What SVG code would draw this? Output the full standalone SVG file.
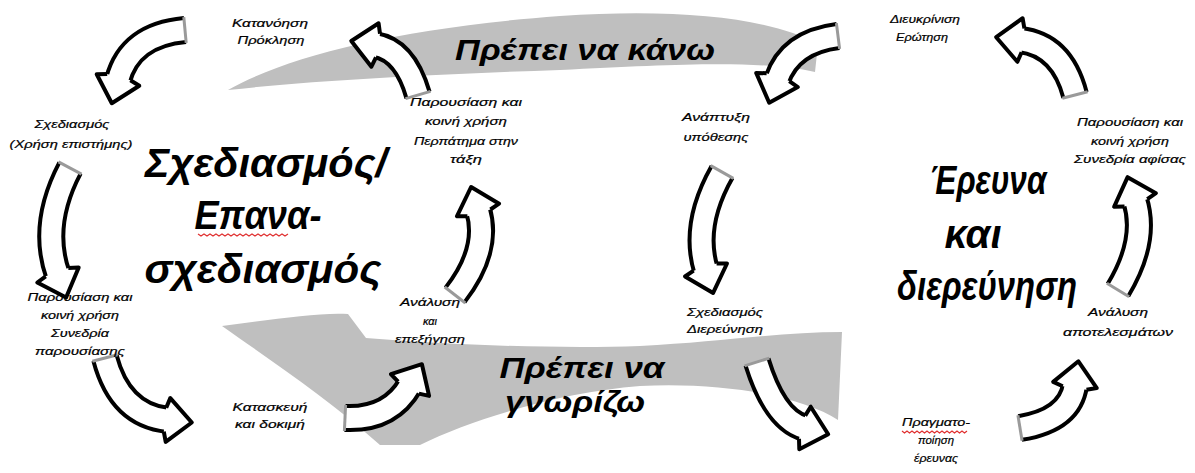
<svg xmlns="http://www.w3.org/2000/svg" width="1195" height="473" viewBox="0 0 1195 473">
<style>
.band{fill:#bfbfbf;stroke:none}
.big{font-family:"Liberation Sans","DejaVu Sans",sans-serif;font-weight:bold;font-style:italic;font-size:40px;fill:#000;text-anchor:middle}
.mid{font-family:"Liberation Sans","DejaVu Sans",sans-serif;font-weight:bold;font-style:italic;font-size:29px;fill:#000;text-anchor:middle}
.sm{font-family:"Liberation Sans","DejaVu Sans",sans-serif;font-style:italic;font-size:11px;fill:#000;stroke:#000;stroke-width:0.2;text-anchor:middle}
.so{fill:none;stroke:#000;stroke-width:28}
.si{fill:none;stroke:#fff;stroke-width:20}
.hd{fill:#fff;stroke:#000;stroke-width:4;stroke-linejoin:round}
.tl{stroke:#9a9a9a;stroke-width:3;fill:none}
.sq{fill:none;stroke:#e03030;stroke-width:1.2}
</style>
<rect width="1195" height="473" fill="#fff"/>
<g id="bands">
<path class="band" d="M228 90 C290 55 400 28 560 16 C680 8 770 18 818 44 L815 72 C760 60 680 64 560 70 C440 74 320 80 228 90 Z"/>
<path class="band" d="M222 326 C270 320 320 312 348 314 L366 338 C450 345 560 349 640 346 C720 342 780 332 842 332 L838 420 C800 395 720 382 640 386 C560 392 470 420 420 445 L380 445 C330 400 270 360 222 326 Z"/>
</g>
<g id="connectors">
<g id="a1"><path class="so" d="M418 95 Q405 50 375 45"/><path class="si" d="M418 95 Q405 50 375 45"/><path class="hd" d="M380 33.7 L378.6 23.3 L351.3 41 L371.4 66.7 L376 57.3"/><path class="tl" d="M430.5 91.4 L405.5 98.6"/></g>
<g id="a2"><path class="so" d="M185 30 Q130 35 118 80"/><path class="si" d="M185 30 Q130 35 118 80"/><path class="hd" d="M107.2 74 L96.7 74.3 L111.8 103.2 L139.3 85.7 L130.4 80.2"/><path class="tl" d="M183.8 17.1 L186.2 42.9"/></g>
<g id="a3"><path class="so" d="M70 168 Q40 225 58 275"/><path class="si" d="M70 168 Q40 225 58 275"/><path class="hd" d="M45.7 276.3 L37.3 282.5 L66.1 297.6 L78.7 267.5 L68.3 268.1"/><path class="tl" d="M58.5 161.9 L81.5 174.1"/></g>
<g id="a4"><path class="so" d="M105 358 Q120 415 168 420"/><path class="si" d="M105 358 Q120 415 168 420"/><path class="hd" d="M163.8 431.6 L165.7 441.9 L191.8 422.5 L170.3 398.1 L166.2 407.8"/><path class="tl" d="M92.4 361.3 L117.6 354.7"/></g>
<g id="a5"><path class="so" d="M345 418 Q390 420 410 385"/><path class="si" d="M345 418 Q390 420 410 385"/><path class="hd" d="M418.9 393.6 L429.1 395.9 L421.9 364.2 L390.9 374.1 L398.1 381.6"/><path class="tl" d="M344.4 431 L345.6 405"/></g>
<g id="a6"><path class="so" d="M455 295 Q490 250 478 210"/><path class="si" d="M455 295 Q490 250 478 210"/><path class="hd" d="M490.4 209.5 L499.1 203.7 L471.1 187 L456.9 216.3 L467.4 216.3"/><path class="tl" d="M465.3 303 L444.7 287"/></g>
<g id="b1"><path class="so" d="M1075 95 Q1062 45 1020 40"/><path class="si" d="M1075 95 Q1062 45 1020 40"/><path class="hd" d="M1024.4 28.5 L1022.6 18.2 L996.2 37.2 L1017.4 61.8 L1021.6 52.3"/><path class="tl" d="M1087.6 91.7 L1062.4 98.3"/></g>
<g id="b2"><path class="so" d="M838 36 Q790 42 777 80"/><path class="si" d="M838 36 Q790 42 777 80"/><path class="hd" d="M766.6 73.3 L756.2 72.9 L769.2 102.7 L797.8 87.1 L789.3 81.1"/><path class="tl" d="M836.4 23.1 L839.6 48.9"/></g>
<g id="b3"><path class="so" d="M722 172 Q692 225 706 270"/><path class="si" d="M722 172 Q692 225 706 270"/><path class="hd" d="M693.6 270.7 L685 276.5 L713.1 292.9 L727 263.5 L716.6 263.5"/><path class="tl" d="M710.7 165.6 L733.3 178.4"/></g>
<g id="b4"><path class="so" d="M757 362 Q775 420 805 428"/><path class="si" d="M757 362 Q775 420 805 428"/><path class="hd" d="M799 438.8 L799.3 449.3 L828.2 434.2 L810.7 406.7 L805.2 415.6"/><path class="tl" d="M744.6 365.9 L769.4 358.1"/></g>
<g id="b5"><path class="so" d="M1020 428 Q1070 420 1075 385"/><path class="si" d="M1020 428 Q1070 420 1075 385"/><path class="hd" d="M1086.5 389.7 L1096.8 388.1 L1078.4 361.3 L1053.2 381.9 L1062.7 386.3"/><path class="tl" d="M1022.1 440.8 L1017.9 415.2"/></g>
<g id="b6"><path class="so" d="M1118 290 Q1148 240 1135 200"/><path class="si" d="M1118 290 Q1148 240 1135 200"/><path class="hd" d="M1147.3 199.2 L1155.9 193.2 L1127.6 177.2 L1114.1 206.8 L1124.5 206.6"/><path class="tl" d="M1129.1 296.7 L1106.9 283.3"/></g>
</g>
<g id="title-left">
<text class="big" x="266" y="177" textLength="242" lengthAdjust="spacingAndGlyphs">Σχεδιασμός/</text>
<text class="big" x="258" y="229" textLength="127" lengthAdjust="spacingAndGlyphs">Επανα-</text>
<path class="sq" d="M198 234 l3 2 l3 -2 l3 2 l3 -2 l3 2 l3 -2 l3 2 l3 -2 l3 2 l3 -2 l3 2 l3 -2 l3 2 l3 -2 l3 2 l3 -2 l3 2 l3 -2 l3 2 l3 -2 l3 2 l3 -2 l3 2 l3 -2 l3 2 l3 -2 l3 2 l3 -2 l3 2 l3 -2"/>
<text class="big" x="263" y="283" textLength="237" lengthAdjust="spacingAndGlyphs">σχεδιασμός</text>
</g>
<g id="title-right">
<text class="big" x="988" y="194" textLength="117" lengthAdjust="spacingAndGlyphs">Έρευνα</text>
<text class="big" x="973" y="248">και</text>
<text class="big" x="987" y="300" textLength="180" lengthAdjust="spacingAndGlyphs">διερεύνηση</text>
</g>
<g id="must-do"><text class="mid" x="585" y="60" textLength="260" lengthAdjust="spacingAndGlyphs">Πρέπει να κάνω</text></g>
<g id="must-know">
<text class="mid" x="582" y="378" textLength="165" lengthAdjust="spacingAndGlyphs">Πρέπει να</text>
<text class="mid" x="575" y="412" textLength="140" lengthAdjust="spacingAndGlyphs">γνωρίζω</text>
</g>
<g id="n-katanoisi"><text class="sm" x="270" y="27" textLength="76" lengthAdjust="spacingAndGlyphs">Κατανόηση</text><text class="sm" x="271" y="44" textLength="67" lengthAdjust="spacingAndGlyphs">Πρόκληση</text></g>
<g id="n-sxediasmos"><text class="sm" x="72" y="128" textLength="75" lengthAdjust="spacingAndGlyphs">Σχεδιασμός</text><text class="sm" x="71" y="148" textLength="123" lengthAdjust="spacingAndGlyphs">(Χρήση επιστήμης)</text></g>
<g id="n-perpatima"><text class="sm" x="466" y="106" textLength="112" lengthAdjust="spacingAndGlyphs">Παρουσίαση και</text><text class="sm" x="466" y="125" textLength="82" lengthAdjust="spacingAndGlyphs">κοινή χρήση</text><text class="sm" x="466" y="145" textLength="104" lengthAdjust="spacingAndGlyphs">Περπάτημα στην</text><text class="sm" x="466" y="163" textLength="32" lengthAdjust="spacingAndGlyphs">τάξη</text></g>
<g id="n-synedria-par"><text class="sm" x="80" y="301" textLength="105" lengthAdjust="spacingAndGlyphs">Παρουσίαση και</text><text class="sm" x="80" y="319" textLength="78" lengthAdjust="spacingAndGlyphs">κοινή χρήση</text><text class="sm" x="80" y="337" textLength="58" lengthAdjust="spacingAndGlyphs">Συνεδρία</text><text class="sm" x="80" y="355" textLength="90" lengthAdjust="spacingAndGlyphs">παρουσίασης</text></g>
<g id="n-kataskevi"><text class="sm" x="270" y="411" textLength="75" lengthAdjust="spacingAndGlyphs">Κατασκευή</text><text class="sm" x="270" y="428" textLength="70" lengthAdjust="spacingAndGlyphs">και δοκιμή</text></g>
<g id="n-analysi"><text class="sm" x="430" y="306" textLength="60" lengthAdjust="spacingAndGlyphs">Ανάλυση</text><text class="sm" x="430" y="325">και</text><text class="sm" x="430" y="343" textLength="70" lengthAdjust="spacingAndGlyphs">επεξήγηση</text></g>
<g id="n-anaptyxi"><text class="sm" x="716" y="121" textLength="68" lengthAdjust="spacingAndGlyphs">Ανάπτυξη</text><text class="sm" x="716" y="141" textLength="65" lengthAdjust="spacingAndGlyphs">υπόθεσης</text></g>
<g id="n-dierevnisi"><text class="sm" x="725" y="316" textLength="76" lengthAdjust="spacingAndGlyphs">Σχεδιασμός</text><text class="sm" x="725" y="333" textLength="76" lengthAdjust="spacingAndGlyphs">Διερεύνηση</text></g>
<g id="n-erotisi"><text class="sm" x="925" y="23" textLength="70" lengthAdjust="spacingAndGlyphs">Διευκρίνιση</text><text class="sm" x="922" y="41" textLength="52" lengthAdjust="spacingAndGlyphs">Ερώτηση</text></g>
<g id="n-afisa"><text class="sm" x="1130" y="126" textLength="106" lengthAdjust="spacingAndGlyphs">Παρουσίαση και</text><text class="sm" x="1130" y="145" textLength="78" lengthAdjust="spacingAndGlyphs">κοινή χρήση</text><text class="sm" x="1130" y="163" textLength="112" lengthAdjust="spacingAndGlyphs">Συνεδρία αφίσας</text></g>
<g id="n-apotelesmata"><text class="sm" x="1118" y="316" textLength="60" lengthAdjust="spacingAndGlyphs">Ανάλυση</text><text class="sm" x="1118" y="336" textLength="110" lengthAdjust="spacingAndGlyphs">αποτελεσμάτων</text></g>
<g id="n-pragmatopoiisi"><text class="sm" x="936" y="426" textLength="68" lengthAdjust="spacingAndGlyphs">Πραγματο-</text><path class="sq" d="M902 431 l2.5 2 l2.5 -2 l2.5 2 l2.5 -2 l2.5 2 l2.5 -2 l2.5 2 l2.5 -2 l2.5 2 l2.5 -2 l2.5 2 l2.5 -2 l2.5 2 l2.5 -2 l2.5 2 l2.5 -2 l2.5 2 l2.5 -2 l2.5 2 l2.5 -2 l2.5 2 l2.5 -2 l2.5 2 l2.5 -2 l2.5 2 l2.5 -2"/><text class="sm" x="936" y="444" textLength="36" lengthAdjust="spacingAndGlyphs">ποίηση</text><text class="sm" x="936" y="462" textLength="44" lengthAdjust="spacingAndGlyphs">έρευνας</text></g>
</svg>
